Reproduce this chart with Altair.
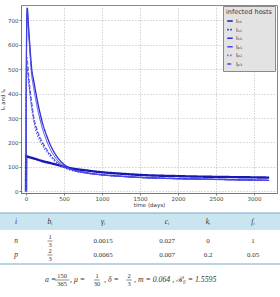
import altair as alt
import pandas as pd

# ---------------- data ----------------
time_days = [0, 3, 8, 12, 17, 30, 50, 75, 100, 150, 200, 300, 400, 500, 600,
             800, 1000, 1250, 1500, 2000, 2500, 3000, 3200]
I_n1 = [0, 145, 144, 143, 142, 141, 139, 137, 135, 130, 125, 117, 109, 101, 94,
        85, 78, 72, 67, 62, 59, 57, 56]
I_n2 = [0, 380, 510, 520, 510, 470, 410, 350, 300, 240, 205, 155, 120, 98, 86,
        74, 67, 61, 57, 52, 49, 46, 45]
I_n3 = [0, 400, 650, 730, 750, 690, 600, 500, 455, 370, 300, 205, 145, 110, 92,
        76, 68, 62, 57, 52, 49, 46, 45]
I_p1 = [0, 390, 630, 720, 740, 670, 575, 475, 425, 340, 275, 185, 132, 104, 89,
        75, 67, 61, 56, 51, 48, 45, 44]
I_p2 = [0, 360, 490, 505, 495, 455, 395, 335, 285, 228, 195, 148, 116, 96, 85,
        73, 66, 60, 56, 51, 48, 45, 44]
I_p3 = [0, 420, 540, 550, 540, 495, 430, 365, 310, 250, 212, 160, 123, 100, 88,
        75, 67, 61, 57, 52, 49, 46, 45]
series_names = ["Iₙ₁", "Iₙ₂", "Iₙ₃", "Iₚ₁", "Iₚ₂", "Iₚ₃"]
series_values = [I_n1, I_n2, I_n3, I_p1, I_p2, I_p3]
x_ticks = [0, 500, 1000, 1500, 2000, 2500, 3000]
y_ticks = [0, 100, 200, 300, 400, 500, 600, 700]

# table
table_headers = ["i", "bᵢ", "γᵢ", "cᵢ", "kᵢ", "fᵢ"]
row_i = ["n", "p"]
b_num = ["1", "2"]
b_den = ["3", "3"]
gamma_i = ["0.0015", "0.0065"]
c_i = ["0.027", "0.007"]
k_i = ["0", "0.2"]
f_i = ["1", "0.05"]
footer_text = ["a =", ",  μ =", ",  δ =", ",   m = 0.064 ,   ℛ₀ = 1.5595"]
footer_frac_num = ["150", "1", "2"]
footer_frac_den = ["365", "30", "3"]

# ---------------- styles / layout ----------------
colors = ["#1818b8", "#2a2ad6", "#2a2ad6", "#4a4ae6", "#5050e8", "#5050e8"]
dashes = [[1, 0], [1.5, 1.5], [1, 0], [1, 0], [1.2, 1.8], [4, 2]]
widths = [2.4, 1.1, 1.3, 1.0, 1.0, 1.0]

PLOT_W, PLOT_H = 256, 188
B_TOP = 208          # absolute y where the table panel starts
B_LEFT = 21          # absolute x where the panels start
col_x = [16, 50, 103, 167, 208, 253]
head_y, row_y = 221, [240, 254]
frac_gap = 4
footer_y = 279
footer_x = [45, 70, 104, 134]
footer_frac_x = [62, 97, 129]

rows = []
for name, vals in zip(series_names, series_values):
    for t, v in zip(time_days, vals):
        rows.append({"t": t, "I": v, "host": name})
df = pd.DataFrame(rows)

legend = alt.Legend(
    title="infected hosts", orient="none", legendX=202, legendY=1,
    fillColor="#e3e3e3", strokeColor="#8a8a8a", padding=3,
    titleFontSize=6.5, titleFontWeight="normal", titleColor="#333",
    titleFont="DejaVu Sans", labelFont="DejaVu Sans",
    labelFontSize=5.5, labelColor="#333", symbolType="stroke",
    symbolSize=30, symbolStrokeWidth=1.6, rowPadding=0.6, titlePadding=1.5,
    labelOffset=2, offset=0,
)

xs = alt.Scale(domain=[-66, 3303], nice=False, zero=False)
ys = alt.Scale(domain=[-7, 763], nice=False, zero=False)
axis_common = dict(labelFontSize=5.5, labelColor="#444", titleFontSize=5.5,
                   titleFontWeight="normal", titleColor="#333",
                   labelFont="DejaVu Sans", titleFont="DejaVu Sans",
                   gridDash=[1, 2], gridColor="#b8b8b8", domainColor="#777",
                   tickColor="#777", tickSize=2, format="d")

layers = []
for name, w in zip(series_names, widths):
    layers.append(
        alt.Chart(df).transform_filter(alt.datum.host == name)
        .mark_line(interpolate="monotone", strokeWidth=w, clip=True)
        .encode(
            x=alt.X("t:Q", scale=xs,
                    axis=alt.Axis(values=x_ticks, title="time (days)",
                                  labelPadding=1, titlePadding=1, **axis_common)),
            y=alt.Y("I:Q", scale=ys,
                    axis=alt.Axis(values=y_ticks, title="Iₙ and Iₚ",
                                  labelPadding=1, titlePadding=2, **axis_common)),
            color=alt.Color("host:N", scale=alt.Scale(domain=series_names, range=colors),
                            legend=legend),
            strokeDash=alt.StrokeDash("host:N",
                                      scale=alt.Scale(domain=series_names, range=dashes),
                                      legend=legend),
        )
    )
plot = alt.layer(*layers).properties(
    width=PLOT_W, height=PLOT_H,
    view=alt.ViewBackground(stroke="#888", strokeWidth=1))

# ---------------- table panel ----------------
TX = alt.Scale(domain=[0, 280], range=[-B_LEFT, 280 - B_LEFT])
TY = alt.Scale(domain=[0, 297], range=[-B_TOP, 297 - B_TOP])
TB_H = 297 - B_TOP - 2

band = pd.DataFrame({"x": [0], "x2": [280], "y": [212], "y2": [229]})
lines_df = pd.DataFrame({"x": [0, 0], "x2": [280, 280], "y": [211.6, 262.6], "y2": [212.6, 263.6]})

texts = []
for cx, h in zip(col_x, table_headers):
    texts.append({"x": cx, "y": head_y, "text": h, "kind": "head"})
for r in range(2):
    vals = [row_i[r], None, gamma_i[r], c_i[r], k_i[r], f_i[r]]
    for cx, v in zip(col_x, vals):
        if v is not None:
            texts.append({"x": cx, "y": row_y[r], "text": v,
                          "kind": "ital" if cx == col_x[0] else "val"})
    texts.append({"x": col_x[1], "y": row_y[r] - frac_gap, "text": b_num[r], "kind": "frac"})
    texts.append({"x": col_x[1], "y": row_y[r] + frac_gap, "text": b_den[r], "kind": "frac"})
for cx, n, d in zip(footer_frac_x, footer_frac_num, footer_frac_den):
    texts.append({"x": cx, "y": footer_y - frac_gap, "text": n, "kind": "frac"})
    texts.append({"x": cx, "y": footer_y + frac_gap, "text": d, "kind": "frac"})
tdf = pd.DataFrame(texts)
foot = pd.DataFrame({"x": footer_x, "y": [footer_y] * 4, "text": footer_text})

bars = []
for r in range(2):
    bars.append({"x": col_x[1] - 2.5, "x2": col_x[1] + 2.5, "y": row_y[r] - 0.3, "y2": row_y[r] + 0.3})
for cx, n in zip(footer_frac_x, footer_frac_num):
    hw = 2.3 * len(n) + 0.5
    bars.append({"x": cx - hw, "x2": cx + hw, "y": footer_y - 0.3, "y2": footer_y + 0.3})
bdf = pd.DataFrame(bars)

band_l = alt.Chart(band).mark_rect(color="#c9e5ef").encode(
    x=alt.X("x:Q", scale=TX, axis=None), x2="x2:Q",
    y=alt.Y("y:Q", scale=TY, axis=None), y2="y2:Q")
rule_l = alt.Chart(lines_df).mark_rect(color="#7aaac4").encode(
    x=alt.X("x:Q", scale=TX, axis=None), x2="x2:Q",
    y=alt.Y("y:Q", scale=TY, axis=None), y2="y2:Q")
text_base = dict(font="Liberation Serif", color="#333", baseline="middle", align="center")
head_l = alt.Chart(tdf).transform_filter(alt.datum.kind == "head").mark_text(
    fontSize=7.5, fontStyle="italic", **text_base).encode(
    x=alt.X("x:Q", scale=TX, axis=None), y=alt.Y("y:Q", scale=TY, axis=None), text="text:N")
ital_l = alt.Chart(tdf).transform_filter(alt.datum.kind == "ital").mark_text(
    fontSize=7.5, fontStyle="italic", **text_base).encode(
    x=alt.X("x:Q", scale=TX, axis=None), y=alt.Y("y:Q", scale=TY, axis=None), text="text:N")
val_l = alt.Chart(tdf).transform_filter(alt.datum.kind == "val").mark_text(
    fontSize=7, **text_base).encode(
    x=alt.X("x:Q", scale=TX, axis=None), y=alt.Y("y:Q", scale=TY, axis=None), text="text:N")
frac_l = alt.Chart(tdf).transform_filter(alt.datum.kind == "frac").mark_text(
    fontSize=6.5, **text_base).encode(
    x=alt.X("x:Q", scale=TX, axis=None), y=alt.Y("y:Q", scale=TY, axis=None), text="text:N")
bar_l = alt.Chart(bdf).mark_rect(color="#444").encode(
    x=alt.X("x:Q", scale=TX, axis=None), x2="x2:Q",
    y=alt.Y("y:Q", scale=TY, axis=None), y2="y2:Q")
foot_l = alt.Chart(foot).mark_text(fontSize=7.8, font="Liberation Serif", fontStyle="italic",
                                   color="#333", baseline="middle", align="left").encode(
    x=alt.X("x:Q", scale=TX, axis=None), y=alt.Y("y:Q", scale=TY, axis=None), text="text:N")

table = alt.layer(band_l, rule_l, head_l, ital_l, val_l, frac_l, bar_l, foot_l).properties(
    width=PLOT_W, height=TB_H,
    view=alt.ViewBackground(stroke="transparent", strokeWidth=0))

chart = alt.vconcat(plot, table, spacing=0).properties(
    padding={"left": 0, "top": 4, "right": 0, "bottom": 0}
).configure(background="white")

chart.save("out.html", embed_options={"renderer": "svg", "actions": False})
